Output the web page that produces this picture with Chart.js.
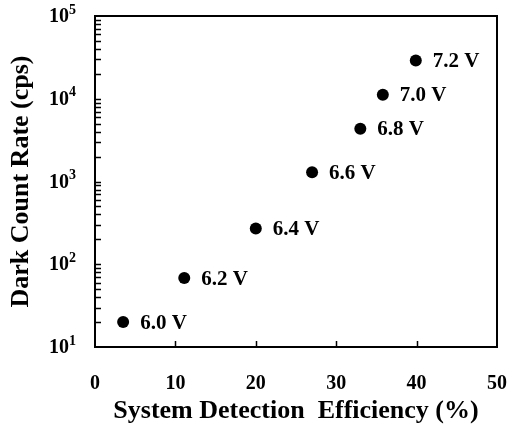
<!DOCTYPE html>
<html>
<head>
<meta charset="utf-8">
<script src="https://cdn.jsdelivr.net/npm/chart.js@4/dist/chart.umd.min.js"></script>
<style>
html,body{margin:0;padding:0;background:#fff;}
#wrap{width:511px;height:428px;position:relative;}
</style>
</head>
<body>
<div id="wrap"><canvas id="c" width="511" height="428"></canvas></div>
<script>
const voltages = ['6.0 V','6.2 V','6.4 V','6.6 V','6.8 V','7.0 V','7.2 V'];
const efficiency = [3.5, 11.1, 20.0, 27.0, 33.0, 35.8, 39.9];
const darkCounts = [20, 68, 270, 1290, 4350, 11200, 29000];
const xTickValues = [0, 10, 20, 30, 40, 50];
const yTickExponents = [1, 2, 3, 4, 5];
const xTitle = 'System Detection  Efficiency (%)';
const yTitle = 'Dark Count Rate (cps)';

const SERIF = '"Liberation Serif", "Times New Roman", serif';

const decor = {
  id: 'decor',
  afterDraw(chart) {
    const ctx = chart.ctx;
    const a = chart.chartArea;
    const xs = chart.scales.x, ys = chart.scales.y;
    ctx.save();
    ctx.strokeStyle = '#000';
    ctx.lineWidth = 2;
    ctx.strokeRect(a.left, a.top, a.right - a.left, a.bottom - a.top);
    ctx.lineWidth = 1.5;
    ctx.beginPath();
    const minE = yTickExponents[0], maxE = yTickExponents[yTickExponents.length - 1];
    for (let e = minE; e < maxE; e++) {
      for (let m = 1; m <= 9; m++) {
        const v = m * Math.pow(10, e);
        if (v <= ys.min || v >= ys.max) continue;
        const py = Math.round(ys.getPixelForValue(v)) + 0.5;
        ctx.moveTo(a.left, py);
        ctx.lineTo(a.left + 6, py);
      }
    }
    xTickValues.forEach(v => {
      if (v <= xs.min || v >= xs.max) return;
      const px = Math.round(xs.getPixelForValue(v)) + 0.5;
      ctx.moveTo(px, a.bottom);
      ctx.lineTo(px, a.bottom - 6);
    });
    ctx.stroke();

    ctx.fillStyle = '#000';
    yTickExponents.forEach(e => {
      const py = ys.getPixelForValue(Math.pow(10, e));
      const expStr = String(e);
      ctx.font = 'bold 14px ' + SERIF;
      const ew = ctx.measureText(expStr).width;
      const right = 76;
      ctx.textBaseline = 'middle';
      ctx.textAlign = 'left';
      ctx.fillText(expStr, right - ew, py - 6);
      ctx.font = 'bold 20px ' + SERIF;
      ctx.textAlign = 'right';
      ctx.fillText('10', right - ew, py + 1);
    });

    const meta = chart.getDatasetMeta(0);
    ctx.font = 'bold 21px ' + SERIF;
    ctx.textAlign = 'left';
    ctx.textBaseline = 'middle';
    meta.data.forEach((pt, i) => {
      ctx.fillText(voltages[i], pt.x + 17, pt.y + 1);
    });
    ctx.restore();
  }
};

new Chart(document.getElementById('c'), {
  type: 'scatter',
  data: {
    datasets: [{
      data: efficiency.map((x, i) => ({x: x, y: darkCounts[i]})),
      backgroundColor: '#000',
      borderColor: '#000',
      borderWidth: 0,
      pointRadius: 6,
      pointHoverRadius: 6
    }]
  },
  options: {
    responsive: false,
    animation: false,
    events: [],
    layout: {padding: {left: 0, right: 14, top: 16, bottom: 0}},
    plugins: {legend: {display: false}, tooltip: {enabled: false}},
    scales: {
      x: {
        type: 'linear',
        min: 0, max: 50,
        afterBuildTicks(s) { s.ticks = xTickValues.map(v => ({value: v})); },
        afterFit(s) { s.height = 81; s.paddingLeft = 0; s.paddingRight = 0; },
        grid: {display: false, drawTicks: false},
        border: {display: false},
        ticks: {
          color: '#000',
          font: {family: SERIF, size: 20, weight: 'bold'},
          padding: 25,
          maxRotation: 0
        },
        title: {
          display: true, text: xTitle, color: '#000',
          font: {family: SERIF, size: 26, weight: 'bold'},
          padding: {top: 0, bottom: 1}
        }
      },
      y: {
        type: 'logarithmic',
        min: 10, max: 100000,
        afterFit(s) { s.width = 95; s.paddingTop = 0; s.paddingBottom = 0; },
        grid: {display: false, drawTicks: false},
        border: {display: false},
        ticks: {display: false},
        title: {
          display: true, text: yTitle, color: '#000',
          font: {family: SERIF, size: 26, weight: 'bold'},
          padding: {top: 6, bottom: 0}
        }
      }
    }
  },
  plugins: [decor]
});
</script>
</body>
</html>
